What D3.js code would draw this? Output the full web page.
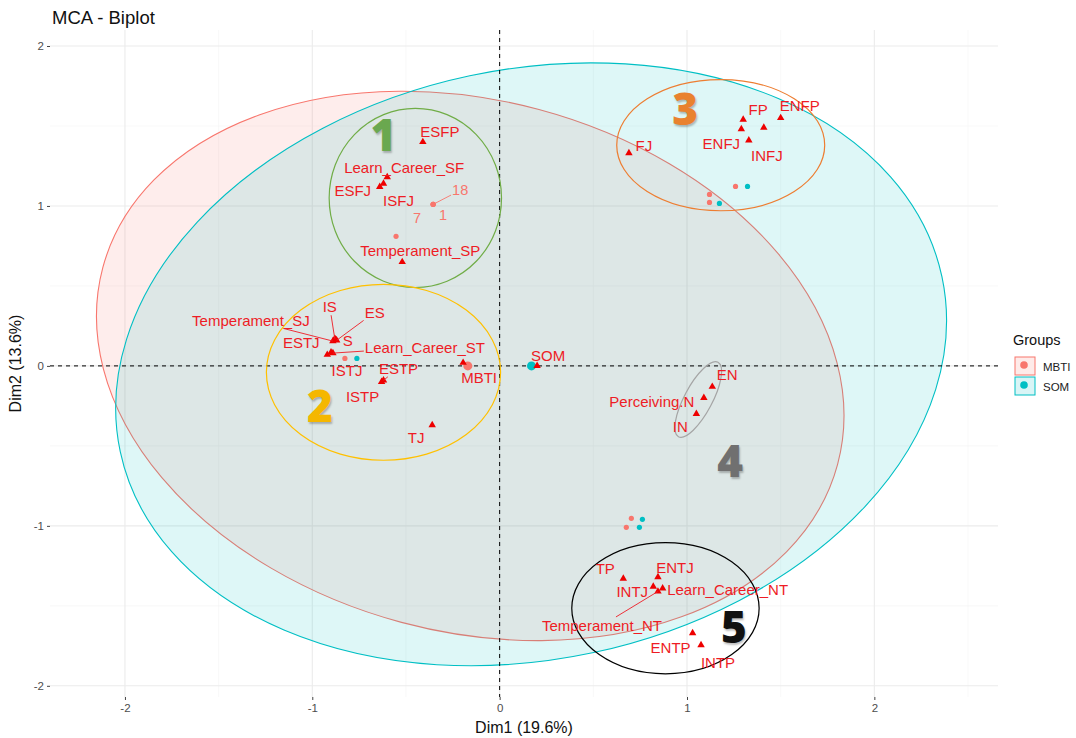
<!DOCTYPE html>
<html>
<head>
<meta charset="utf-8">
<script src="https://cdn.jsdelivr.net/npm/d3@7"></script>
<style>
  body { margin: 0; background: #fff; }
  svg { font-family: "Liberation Sans", Arial, sans-serif; }
</style>
</head>
<body>
<div id="chart"></div>
<script>
// variable categories: [name, dim1, dim2]
const categories = [
  ["ESFP", -0.41, 1.40], ["Learn_Career_SF", -0.60, 1.18], ["ESFJ", -0.64, 1.12],
  ["ISFJ", -0.62, 1.14], ["Temperament_SP", -0.52, 0.65],
  ["IS", -0.88, 0.17], ["ES", -0.87, 0.16], ["Temperament_SJ", -0.89, 0.155],
  ["S", -0.875, 0.165], ["ESTJ", -0.92, 0.07], ["Learn_Career_ST", -0.89, 0.08],
  ["ISTJ", -0.90, 0.085], ["ESTP", -0.62, -0.09], ["ISTP", -0.63, -0.10],
  ["TJ", -0.36, -0.37], ["MBTI", -0.195, 0.02], ["SOM", 0.20, 0.00],
  ["FJ", 0.69, 1.33], ["FP", 1.30, 1.54], ["ENFP", 1.50, 1.55], ["ENFJ", 1.29, 1.48],
  ["INFP", 1.41, 1.49], ["INFJ", 1.33, 1.41],
  ["EN", 1.135, -0.13], ["Perceiving.N", 1.09, -0.20], ["IN", 1.05, -0.30],
  ["TP", 0.66, -1.33], ["ENTJ", 0.845, -1.32], ["INTJ", 0.82, -1.38],
  ["Learn_Career_NT", 0.87, -1.39], ["Temperament_NT", 0.845, -1.41],
  ["ENTP", 1.03, -1.67], ["INTP", 1.075, -1.745]
];

// individuals: [id, group, dim1, dim2]
const individuals = [
  ["18", "MBTI", -0.355, 1.01], ["7", "MBTI", -0.355, 1.01], ["1", "MBTI", -0.355, 1.01],
  ["", "MBTI", -0.553, 0.81],
  ["", "MBTI", -0.826, 0.047], ["", "SOM", -0.762, 0.047],
  ["", "MBTI", 1.259, 1.122], ["", "SOM", 1.323, 1.122],
  ["", "MBTI", 1.12, 1.072], ["", "MBTI", 1.12, 1.022], ["", "SOM", 1.173, 1.016],
  ["", "MBTI", 0.703, -0.953], ["", "SOM", 0.762, -0.959],
  ["", "MBTI", 0.676, -1.009], ["", "SOM", 0.746, -1.009]
];

const groups = ["MBTI", "SOM"];
const groupColors = ["#F8766D", "#00BFC4"];
// group means
const groupMeans = [[-0.17, 0.0], [0.17, 0.0]];
// concentration ellipses: [cx, cy, a, b, tilt deg]
const groupEllipses = [[-0.157, 0.0, 2.03, 1.66, 15], [0.168, 0.01, 2.242, 1.844, -12]];

// hand-drawn annotation ellipses: [label, cx, cy, rx, ry, rotate, colour, labelX, labelY]
const annotations = [
  ["1", -0.45, 1.05, 0.46, 0.56, 0, "#70AD47", -0.62, 1.45],
  ["2", -0.62, -0.04, 0.625, 0.55, 0, "#FFC000", -0.96, -0.245],
  ["3", 1.18, 1.38, 0.555, 0.41, 0, "#ED7D31", 0.99, 1.61],
  ["4", 1.06, -0.21, 0.225, 0.0875, -62, "#A5A5A5", 1.23, -0.59],
  ["5", 0.885, -1.515, 0.5, 0.41, 0, "#000000", 1.25, -1.625]
];
const annotationText = { "1": "#6AA84F", "2": "#F5B700", "3": "#E9822F", "4": "#707070", "5": "#111111" };

const xTicks = [-2, -1, 0, 1, 2];
const yTicks = [-2, -1, 0, 1, 2];
const xMinor = [-1.5, -0.5, 0.5, 1.5, 2.5];
const yMinor = [-1.5, -0.5, 0.5, 1.5];

// label offsets in px [dx, dy, segment?]
const nudge = {
  "ESFP": [17, -10], "Learn_Career_SF": [17, -10], "ESFJ": [-27, 4], "ISFJ": [15, 17],
  "Temperament_SP": [18, -11], "IS": [-5, -32, 1], "ES": [38, -28, 1],
  "Temperament_SJ": [-82, -21, 1], "S": [12, 1], "ESTJ": [-26, -12],
  "Learn_Career_ST": [92, -6, 1], "ISTJ": [16, 18], "ESTP": [15, -12, 1], "ISTP": [-19, 15],
  "TJ": [-16, 12], "MBTI": [16, 15], "SOM": [11, -10], "FJ": [15, -8], "FP": [15, -10],
  "ENFP": [19, -12], "ENFJ": [-20, 14], "INFP": null, "INFJ": [18, 15], "EN": [15, -12],
  "Perceiving.N": [-52, 4], "IN": [-16, 13], "TP": [-18, -10], "ENTJ": [17, -10],
  "INTJ": [-21, 5], "Learn_Career_NT": [65, 1], "Temperament_NT": [-56, 34, 1],
  "ENTP": [-22, 14], "INTP": [17, 17]
};
const indNudge = { "18": [27, -14, 1], "7": [-16, 14], "1": [10, 11] };

const width = 1076, height = 738;
const panel = { left: 50, right: 998, top: 30, bottom: 697 };

const x = d3.scaleLinear().domain([-2.4, 2.66]).range([panel.left, panel.right]);
const y = d3.scaleLinear().domain([2.1, -2.07]).range([panel.top, panel.bottom]);

const svg = d3.select("#chart").append("svg")
  .attr("width", width).attr("height", height);

// grid
const grid = svg.append("g");
grid.selectAll(".xmin").data(xMinor).join("line")
  .attr("x1", d => x(d)).attr("x2", d => x(d)).attr("y1", panel.top).attr("y2", panel.bottom)
  .attr("stroke", "#f3f3f3").attr("stroke-width", 0.6);
grid.selectAll(".ymin").data(yMinor).join("line")
  .attr("y1", d => y(d)).attr("y2", d => y(d)).attr("x1", panel.left).attr("x2", panel.right)
  .attr("stroke", "#f3f3f3").attr("stroke-width", 0.6);
grid.selectAll(".xmaj").data(xTicks).join("line")
  .attr("x1", d => x(d)).attr("x2", d => x(d)).attr("y1", panel.top).attr("y2", panel.bottom)
  .attr("stroke", "#ebebeb").attr("stroke-width", 1.1);
grid.selectAll(".ymaj").data(yTicks).join("line")
  .attr("y1", d => y(d)).attr("y2", d => y(d)).attr("x1", panel.left).attr("x2", panel.right)
  .attr("stroke", "#ebebeb").attr("stroke-width", 1.1);

// axes
const xAxis = d3.axisBottom(x).tickValues(xTicks).tickSize(3).tickPadding(4).tickFormat(d3.format("d"));
const yAxis = d3.axisLeft(y).tickValues(yTicks).tickSize(3).tickPadding(3).tickFormat(d3.format("d"));
const gx = svg.append("g").attr("transform", `translate(0,${panel.bottom})`).call(xAxis);
const gy = svg.append("g").attr("transform", `translate(${panel.left},0)`).call(yAxis);
[gx, gy].forEach(g => {
  g.select(".domain").remove();
  g.selectAll(".tick line").attr("stroke", "#444");
  g.selectAll(".tick text").attr("fill", "#4d4d4d").style("font-size", "11.5px")
    .text(d => d < 0 ? "-" + Math.abs(d) : d);
});

// concentration ellipses (semi-axes in data units, tilt on screen)
svg.append("g").selectAll("ellipse").data(groupEllipses).join("ellipse")
  .attr("cx", d => x(d[0])).attr("cy", d => y(d[1]))
  .attr("rx", d => x(d[0] + d[2]) - x(d[0])).attr("ry", d => y(d[1] - d[3]) - y(d[1]))
  .attr("transform", d => `rotate(${d[4]},${x(d[0])},${y(d[1])})`)
  .attr("fill", (d, i) => groupColors[i]).attr("fill-opacity", 0.13)
  .attr("stroke", (d, i) => groupColors[i]).attr("stroke-width", 1.1);

// reference lines
svg.append("line").attr("x1", x(0)).attr("x2", x(0)).attr("y1", panel.top).attr("y2", panel.bottom)
  .attr("stroke", "#000").attr("stroke-dasharray", "4,4");
svg.append("line").attr("y1", y(0)).attr("y2", y(0)).attr("x1", panel.left).attr("x2", panel.right)
  .attr("stroke", "#000").attr("stroke-dasharray", "4,4");

// annotation ellipses
const ann = svg.append("g");
ann.selectAll("ellipse").data(annotations).join("ellipse")
  .attr("cx", d => x(d[1])).attr("cy", d => y(d[2]))
  .attr("rx", d => x(d[1] + d[3]) - x(d[1])).attr("ry", d => y(d[2] - d[4]) - y(d[2]))
  .attr("transform", d => `rotate(${d[5]},${x(d[1])},${y(d[2])})`)
  .attr("fill", "none").attr("stroke", d => d[6]).attr("stroke-width", 1.2);

// label helper: segment stops at text box edge
function placeLabel(g, px, py, text, off, colour, size) {
  const t = g.append("text").attr("x", px + off[0]).attr("y", py + off[1])
    .attr("text-anchor", "middle").attr("dominant-baseline", "central")
    .attr("fill", colour).style("font-size", size + "px").text(text);
  if (off[2]) {
    const w = t.node().getComputedTextLength() / 2 + 1, h = size / 2 + 1;
    const dx = off[0], dy = off[1];
    const s = Math.min(Math.abs(dx) > 0 ? w / Math.abs(dx) : 9, Math.abs(dy) > 0 ? h / Math.abs(dy) : 9);
    g.insert("line", "text").attr("x1", px).attr("y1", py)
      .attr("x2", px + dx * (1 - s)).attr("y2", py + dy * (1 - s))
      .attr("stroke", colour).attr("stroke-width", 0.9);
  }
}

// individuals
const indG = svg.append("g");
indG.selectAll("circle").data(individuals).join("circle")
  .attr("cx", d => x(d[2])).attr("cy", d => y(d[3])).attr("r", 2.6)
  .attr("fill", d => groupColors[groups.indexOf(d[1])]);
individuals.filter(d => d[0]).forEach(d => {
  placeLabel(indG, x(d[2]), y(d[3]), d[0], indNudge[d[0]], "#F8766D", 14.5);
});

// group means
svg.append("g").selectAll("circle").data(groupMeans).join("circle")
  .attr("cx", d => x(d[0])).attr("cy", d => y(d[1])).attr("r", 4.5)
  .attr("fill", (d, i) => groupColors[i]);

// variable categories
const tri = d3.symbol().type(d3.symbolTriangle).size(24);
const varG = svg.append("g");
varG.selectAll("path").data(categories).join("path")
  .attr("d", tri)
  .attr("transform", d => `translate(${x(d[1])},${y(d[2])})`)
  .attr("fill", "#ee0000");
const labG = svg.append("g");
categories.forEach(d => {
  const off = nudge[d[0]];
  if (off) placeLabel(labG, x(d[1]), y(d[2]), d[0], off, "#ee1c25", 15);
});

// annotation numbers
svg.append("g").selectAll("text").data(annotations).join("text")
  .attr("x", d => x(d[7])).attr("y", d => y(d[8]))
  .attr("text-anchor", "middle").attr("dominant-baseline", "central")
  .attr("fill", d => annotationText[d[0]])
  .style("font-family", "'Open Sans', 'DejaVu Sans', sans-serif")
  .style("font-weight", 800).style("font-size", "44px")
  .style("text-shadow", "1px 2px 2px rgba(0,0,0,0.25)")
  .text(d => d[0]);

// titles
svg.append("text").attr("x", 52).attr("y", 24).style("font-size", "18.5px").attr("fill", "#111")
  .text("MCA - Biplot");
svg.append("text").attr("x", (panel.left + panel.right) / 2).attr("y", 733)
  .attr("text-anchor", "middle").style("font-size", "16px").attr("fill", "#111")
  .text("Dim1 (19.6%)");
svg.append("text").attr("transform", `translate(21,${(panel.top + panel.bottom) / 2}) rotate(-90)`)
  .attr("text-anchor", "middle").style("font-size", "16px").attr("fill", "#111")
  .text("Dim2 (13.6%)");

// legend
const leg = svg.append("g").attr("transform", "translate(1013,0)");
leg.append("text").attr("x", 0).attr("y", 345).style("font-size", "14.5px").attr("fill", "#111").text("Groups");
groups.forEach((g, i) => {
  const top = 357 + i * 20;
  leg.append("rect").attr("x", 2).attr("y", top).attr("width", 20).attr("height", 18)
    .attr("fill", groupColors[i]).attr("fill-opacity", 0.15)
    .attr("stroke", groupColors[i]).attr("stroke-width", 1);
  leg.append("circle").attr("cx", 11).attr("cy", top + 8).attr("r", 3.8).attr("fill", groupColors[i]);
  leg.append("text").attr("x", 30).attr("y", top + 10).attr("dominant-baseline", "central")
    .style("font-size", "11.5px").attr("fill", "#222").text(g);
});
</script>
</body>
</html>
